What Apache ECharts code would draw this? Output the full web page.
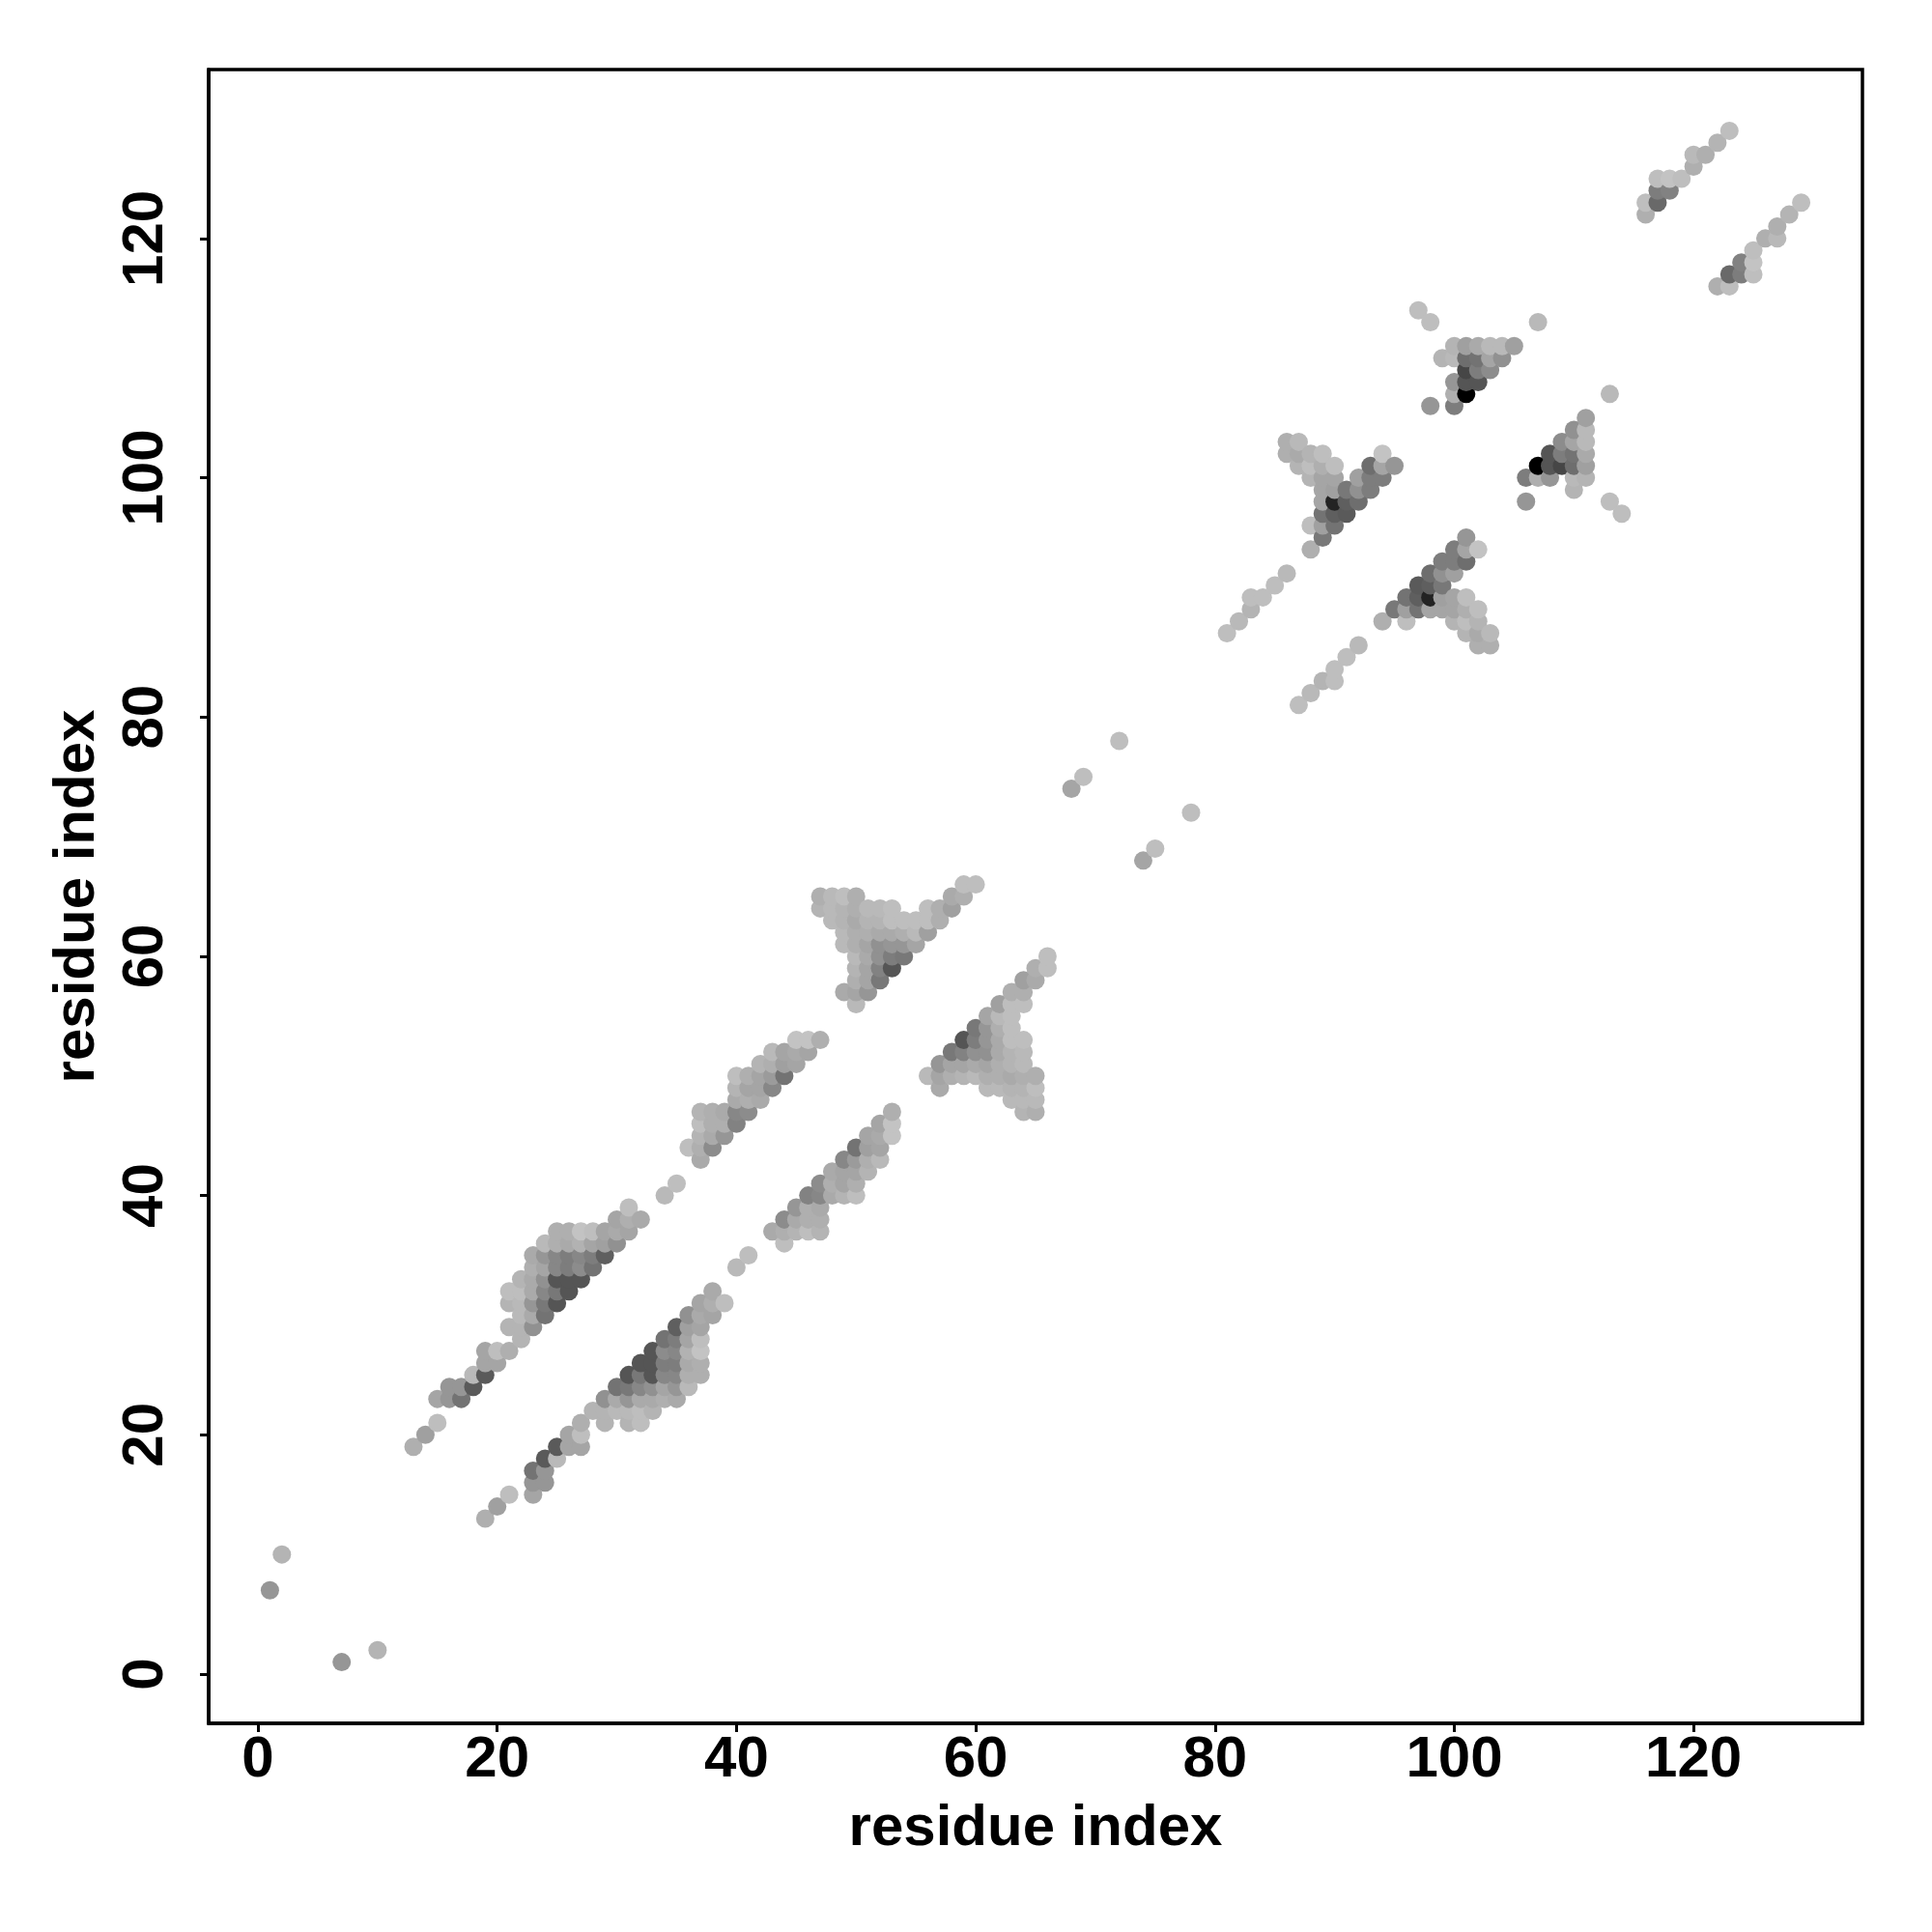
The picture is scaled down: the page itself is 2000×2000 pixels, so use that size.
<!DOCTYPE html>
<html>
<head>
<meta charset="utf-8">
<style>html,body{margin:0;padding:0;background:#fff}#c{width:2000px;height:2000px}</style>
<script src="https://cdn.jsdelivr.net/npm/echarts@6/dist/echarts.min.js"></script>
</head>
<body>
<div id="c"></div>
<script>
// tick labels
const tickValues = [0, 20, 40, 60, 80, 100, 120];
const axisTitle = "residue index";
const axisMin = -4.12;
const axisMax = 134.12;

// contacts read from the upper triangle: [residue i, residue j, grey level]
const termini = [[1,7,150],[2,10,180]];
const region13to39 = [
[13,19,175],[14,20,160],[15,21,190],
[15,23,165],[16,23,150],[17,23,115],
[16,24,150],[17,24,150],[18,24,90],
[18,25,185],[19,25,90],
[19,26,165],[20,26,165],
[19,27,165],[20,27,190],[21,27,175],
[22,28,180],
[21,29,180],[22,29,180],[23,29,145],
[22,30,185],[23,30,170],[24,30,115],
[21,31,180],[22,31,185],[23,31,150],[24,31,120],[25,31,85],
[21,32,190],[22,32,190],[23,32,170],[24,32,135],[25,32,120],[26,32,85],
[22,33,180],[23,33,170],[24,33,145],[25,33,85],[26,33,85],[27,33,85],
[23,34,175],[24,34,165],[25,34,135],[26,34,125],[27,34,140],[28,34,115],
[23,35,170],[24,35,150],[25,35,135],[26,35,125],[27,35,135],[28,35,125],[29,35,95],
[24,36,185],[25,36,175],[26,36,170],[27,36,178],[28,36,165],[29,36,160],[30,36,145],
[25,37,175],[26,37,175],[27,37,195],[28,37,190],[29,37,165],[30,37,170],[31,37,165],
[30,38,165],[31,38,175],[32,38,170],[31,39,190]
];
const region34to53 = [
[34,40,185],[35,41,190],
[37,43,170],
[36,44,190],[37,44,175],[38,44,140],
[37,45,180],[38,45,170],[39,45,150],
[37,46,190],[38,46,175],[39,46,175],[40,46,130],
[37,47,180],[38,47,175],[39,47,170],[40,47,135],[41,47,140],
[40,48,170],[41,48,175],[42,48,170],
[40,49,180],[41,49,165],[42,49,165],[43,49,135],
[40,50,190],[41,50,175],[42,50,165],[43,50,155],[44,50,115],
[42,51,180],[43,51,175],[44,51,160],[45,51,165],
[43,52,185],[44,52,165],[45,52,170],[46,52,165],
[45,53,195],[46,53,195],[47,53,175]
];
const region47to66 = [
[50,56,185],
[49,57,170],[50,57,165],[51,57,150],
[50,58,175],[51,58,165],[52,58,120],
[50,59,180],[51,59,165],[52,59,130],[53,59,85],
[50,60,185],[51,60,170],[52,60,145],[53,60,125],[54,60,120],
[49,61,185],[50,61,175],[51,61,165],[52,61,145],[53,61,150],[54,61,150],[55,61,165],
[49,62,185],[50,62,175],[51,62,175],[52,62,170],[53,62,170],[54,62,175],[55,62,185],[56,62,160],
[48,63,185],[49,63,180],[50,63,170],[51,63,180],[52,63,180],[53,63,190],[54,63,190],[55,63,190],[56,63,190],[57,63,175],
[47,64,180],[48,64,185],[49,64,180],[50,64,175],[51,64,185],[52,64,185],[53,64,190],[56,64,190],[57,64,175],[58,64,160],
[47,65,175],[48,65,185],[49,65,190],[50,65,175],[58,65,170],[59,65,175],
[59,66,190],[60,66,190]
];
const region68to78 = [[68,74,165],[69,75,190],[72,78,190]];
const region81to103 = [
[81,87,190],[82,88,185],[83,89,180],[83,90,190],[84,90,190],[85,91,190],[86,92,185],
[88,94,175],[89,95,120],
[88,96,190],[89,96,160],[90,96,115],
[89,97,115],[90,97,95],[91,97,90],
[89,98,165],[90,98,35],[91,98,95],[92,98,110],
[89,99,165],[90,99,160],[91,99,120],[92,99,145],[93,99,125],
[88,100,180],[89,100,165],[90,100,165],[92,100,160],[93,100,125],[94,100,125],
[87,101,180],[88,101,190],[89,101,175],[90,101,190],[93,101,110],[94,101,165],[95,101,150],
[86,102,175],[87,102,170],[88,102,180],[89,102,190],[94,102,195],
[86,103,175],[87,103,185]
];
const region97to114 = [
[98,106,150],[100,106,125],
[100,107,175],[101,107,0],
[100,108,150],[101,108,85],[102,108,85],
[101,109,70],[102,109,125],[103,109,140],
[99,110,180],[100,110,185],[101,110,110],[102,110,115],[103,110,165],[104,110,145],
[100,111,180],[101,111,160],[102,111,170],[103,111,185],[104,111,185],[105,111,160],
[98,113,190],[107,113,185],[97,114,190]
];
const region116to129 = [
[116,122,175],
[116,123,190],[117,123,105],
[117,124,125],[118,124,130],
[117,125,190],[118,125,195],[119,125,190],
[120,126,175],
[120,127,185],[121,127,175],
[122,128,180],[123,129,190]
];

const upper = [].concat(termini, region13to39, region34to53, region47to66,
  region68to78, region81to103, region97to114, region116to129);
const contacts = upper.concat(upper.map(d => [d[1], d[0], d[2]]))
  .sort((a, b) => a[0] - b[0] || a[1] - b[1]);

const ink = '#000000';
const labelFont = { fontFamily: 'Liberation Sans', fontWeight: 'bold', fontSize: 60, color: ink };

function axis(nameGap, labelMargin, rotate) {
  return {
    type: 'value',
    min: axisMin,
    max: axisMax,
    name: axisTitle,
    nameLocation: 'middle',
    nameGap: nameGap,
    nameRotate: rotate ? 90 : 0,
    nameTextStyle: { fontFamily: 'Liberation Sans', fontWeight: 'bold', fontSize: 60, color: ink },
    splitLine: { show: false },
    axisLine: { show: true, onZero: false, lineStyle: { color: ink, width: 3.5 } },
    axisTick: { show: true, customValues: tickValues, length: 9, inside: false, lineStyle: { color: ink, width: 3 } },
    axisLabel: Object.assign({ show: true, customValues: tickValues, margin: labelMargin, rotate: rotate ? 90 : 0,
      hideOverlap: false, showMinLabel: true, showMaxLabel: true, formatter: v => String(v) }, labelFont)
  };
}

const chart = echarts.init(document.getElementById('c'), null, { renderer: 'canvas' });
chart.setOption({
  backgroundColor: '#ffffff',
  animation: false,
  grid: { left: 216, top: 72, width: 1712, height: 1712, show: true, borderColor: ink, borderWidth: 3.5, backgroundColor: 'transparent', containLabel: false },
  xAxis: axis(79, 8, false),
  yAxis: axis(106, 35, true),
  series: [{
    type: 'scatter',
    data: contacts,
    symbol: 'circle',
    symbolSize: 19,
    encode: { x: 0, y: 1 },
    itemStyle: { opacity: 1, color: p => { const g = p.value[2]; return 'rgb(' + g + ',' + g + ',' + g + ')'; } },
    emphasis: { disabled: true },
    silent: true,
    progressive: 0,
    large: false
  }]
});
</script>
</body>
</html>
